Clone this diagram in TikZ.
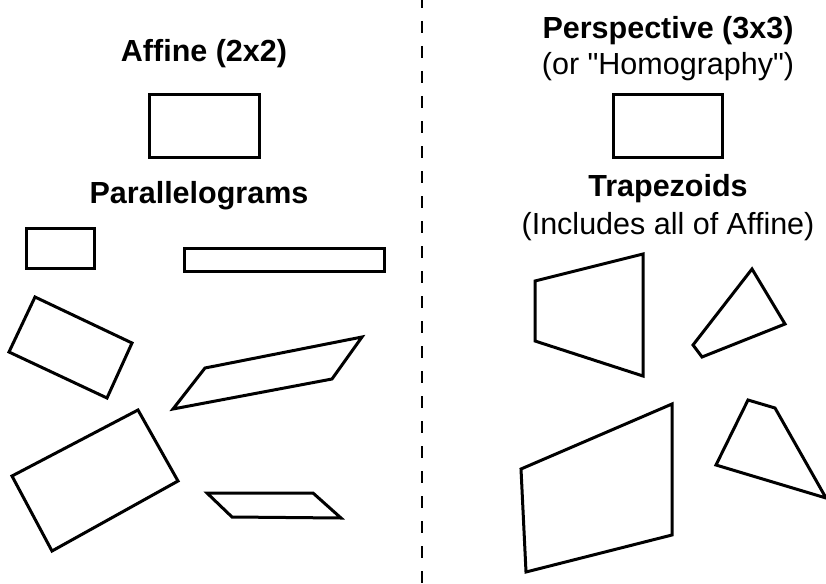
\documentclass[tikz,border=0pt]{standalone}
\usepackage{fontspec}
\setmainfont{Liberation Sans}[Ligatures=TeXOff]
\usetikzlibrary{positioning}

\begin{document}
\begin{tikzpicture}[
    x=1pt,y=-1pt,
    quad/.style={
      draw,
      line width=3pt
    },
    title/.style={
      font=\fontsize{30.5}{36}\selectfont\bfseries,
      anchor=base
    },
    note/.style={
      font=\fontsize{30.5}{36}\selectfont,
      anchor=base
    },
    divider/.style={
      line width=2.5pt,
      dash pattern=on 12pt off 13pt,
      dash phase=4pt
    }
    ]
    \useasboundingbox (0,0) rectangle (826,583);

    % left half: affine
    \node[title] (affine) at (204,62) {Affine (2x2)};
    \node[title] (para) at (199,203) {Parallelograms};
    \draw[quad] (149,95) rectangle (259,157);

    \draw[quad] (26,228) rectangle (94,268);
    \draw[quad] (184,248) rectangle (384,271);
    \draw[quad] (35,297) -- (132,343) -- (107,398) -- (9,352) -- cycle;
    \draw[quad] (205,368) -- (362,337) -- (332,379) -- (173,409) -- cycle;
    \draw[quad] (138,410) -- (178,481) -- (52,551) -- (12,476) -- cycle;
    \draw[quad] (207,493) -- (313,493) -- (341,518) -- (232,517) -- cycle;

    % divider
    \coordinate (divtop) at (422,0);
    \coordinate (divbot) at (422,583);
    \draw[divider] (divtop) -- (divbot);

    % right half: perspective
    \node[title] (persp) at (668,39) {Perspective (3x3)};
    \node[note] (homog) at (668,75) {(or "Homography")};
    \node[title] (trap) at (668,196) {Trapezoids};
    \node[note] (incl) at (668,234) {(Includes all of Affine)};
    \draw[quad] (613,95) rectangle (722,157);

    \draw[quad] (535,281) -- (643,254) -- (643,376) -- (535,341) -- cycle;
    \draw[quad] (752,269) -- (785,324) -- (702,357) -- (693,345) -- cycle;
    \draw[quad] (521,469) -- (672,404) -- (672,535) -- (526,572) -- cycle;
    \draw[quad] (748,400) -- (775,408) -- (826,498) -- (716,465) -- cycle;
\end{tikzpicture}
\end{document}
